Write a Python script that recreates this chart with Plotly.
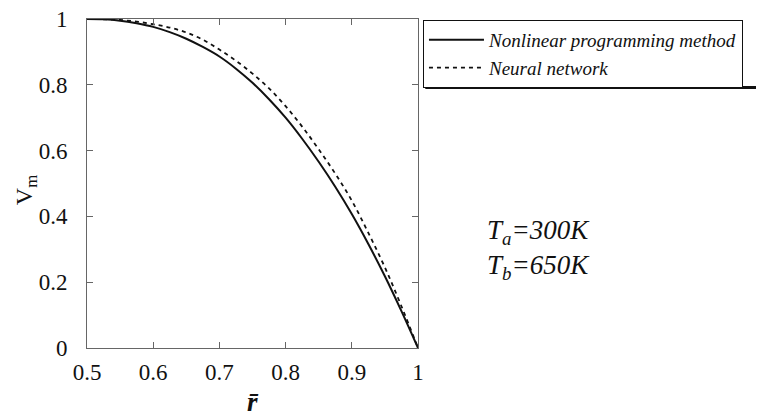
import plotly.graph_objects as go

r_vals = [0.5, 0.525, 0.55, 0.575, 0.6, 0.625, 0.65, 0.675, 0.7, 0.725, 0.75,
          0.775, 0.8, 0.825, 0.85, 0.875, 0.9, 0.925, 0.95, 0.975, 1.0]
v_nlp = [1.000, 0.999, 0.995, 0.987, 0.976, 0.960, 0.940, 0.915, 0.886, 0.849, 0.806,
         0.756, 0.700, 0.636, 0.566, 0.490, 0.407, 0.316, 0.218, 0.112, 0.0]
v_nn = [1.000, 0.999, 0.997, 0.992, 0.984, 0.974, 0.959, 0.937, 0.907, 0.873, 0.834,
        0.789, 0.735, 0.673, 0.604, 0.530, 0.448, 0.350, 0.245, 0.127, 0.0]

x_ticks = [0.5, 0.6, 0.7, 0.8, 0.9, 1.0]
x_labels = ["0.5", "0.6", "0.7", "0.8", "0.9", "1"]
y_ticks = [0, 0.2, 0.4, 0.6, 0.8, 1.0]
y_labels = ["0", "0.2", "0.4", "0.6", "0.8", "1"]

SERIF = "Liberation Serif, Times New Roman, serif"

fig = go.Figure()
fig.add_trace(go.Scatter(x=r_vals, y=v_nlp, mode="lines", line_shape="spline",
                         name="Nonlinear programming method",
                         line=dict(color="#111", width=2)))
fig.add_trace(go.Scatter(x=r_vals, y=v_nn, mode="lines", line_shape="spline",
                         name="Neural network",
                         line=dict(color="#111", width=1.8, dash="4px,4px")))

axis_common = dict(showgrid=False, zeroline=False, showline=True, linecolor="#666",
                   linewidth=1, mirror="ticks", ticks="inside", ticklen=6,
                   tickcolor="#666", automargin=False, ticklabeloverflow="allow")

fig.update_xaxes(range=[0.5, 1.0], tickvals=x_ticks, ticktext=x_labels,
                 ticklabelstandoff=3, tickfont=dict(family=SERIF, size=23, color="#111"),
                 **axis_common)
fig.update_yaxes(range=[0, 1.0], tickvals=y_ticks, ticktext=y_labels,
                 ticklabelstandoff=14, tickfont=dict(family=SERIF, size=23, color="#111"),
                 **axis_common)

# y-axis title
fig.add_annotation(xref="paper", yref="paper", x=-0.184, y=0.48, xanchor="center", yanchor="middle",
                   textangle=-90, text="V<sub>m</sub>", showarrow=False,
                   font=dict(family=SERIF, size=24, color="#111"))
# x-axis title
fig.add_annotation(xref="paper", yref="paper", x=0.5, y=-0.165, yanchor="middle",
                   text="<b><i>r̄</i></b>", showarrow=False,
                   font=dict(family=SERIF, size=27, color="#111"))

fig.add_annotation(xref="paper", yref="paper", x=1.202, y=0.30, xanchor="left", yanchor="middle",
                   align="left", showarrow=False,
                   text="<i>T<sub>a</sub>=300K</i><br><i>T<sub>b</sub>=650K</i>",
                   font=dict(family=SERIF, size=27, color="#111"))

# legend shadow
fig.add_shape(type="line", xref="paper", yref="paper", x0=1.022, x1=2.1, y0=0.792, y1=0.792,
              line=dict(color="#111", width=3))

fig.update_layout(
    width=764, height=419,
    margin=dict(l=79, r=354, t=11, b=79, autoexpand=False),
    paper_bgcolor="white", plot_bgcolor="white",
    font=dict(family=SERIF),
    showlegend=True,
    legend=dict(x=1.015, y=0.997, xanchor="left", yanchor="top",
                bordercolor="#111", borderwidth=1, bgcolor="white",
                font=dict(family=SERIF, size=19, color="#111", style="italic"),
                tracegroupgap=0, itemwidth=55),
)

fig.write_html("out.html")
